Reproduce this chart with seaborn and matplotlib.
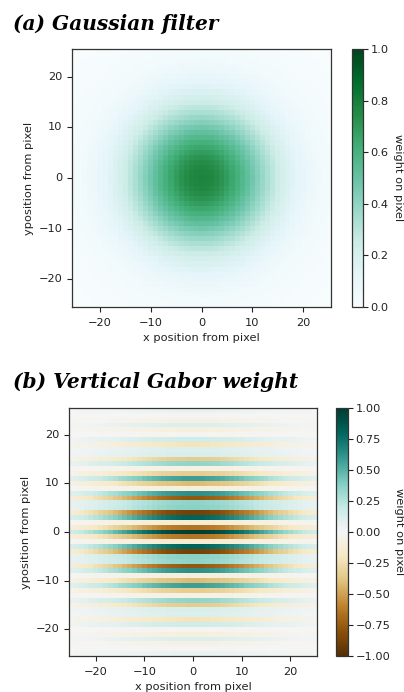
import numpy as np
import matplotlib
matplotlib.use("Agg")
import matplotlib.pyplot as plt
from matplotlib.ticker import FuncFormatter
import seaborn as sns

# Pixel offsets of the filter window
offsets = np.arange(-25, 26)
tick_values = [-20, -10, 0, 10, 20]

# Gaussian filter parameters
gauss_sigma = 10.0
gauss_peak = 0.78

# Vertical Gabor parameters
gabor_sigma_x = 13.0
gabor_sigma_y = 10.5
gabor_wavelength = 2.75

gauss_ticks = [0.0, 0.2, 0.4, 0.6, 0.8, 1.0]
gabor_ticks = [-1.0, -0.75, -0.5, -0.25, 0.0, 0.25, 0.5, 0.75, 1.0]

sns.set_theme(style="ticks")
plt.rcParams["font.family"] = ["DejaVu Sans"]

# rows run from y=+25 (top) to y=-25 (bottom)
ys = offsets[::-1]
X, Y = np.meshgrid(offsets, ys)
gauss = gauss_peak * np.exp(-(X**2 + Y**2) / (2 * gauss_sigma**2))
gabor = np.exp(-(X**2 / (2 * gabor_sigma_x**2) + Y**2 / (2 * gabor_sigma_y**2))) \
    * np.cos(2 * np.pi * Y / gabor_wavelength)

W, H = 404, 692
fig = plt.figure(figsize=(W / 100, H / 100), dpi=100)


def box(left, top, right, bottom):
    return [left / W, 1 - bottom / H, (right - left) / W, (bottom - top) / H]


def minus(s):
    return s.replace("-", "\u2212")


FS = 8.2
spine_color = "#333333"
text_color = "#222222"


def draw(ax, cax, data, cmap, vmin, vmax, cticks, cfmt):
    fmt = FuncFormatter(lambda v, p: minus(cfmt.format(v)))
    sns.heatmap(data, ax=ax, cbar_ax=cax, cmap=cmap, vmin=vmin, vmax=vmax,
                cbar_kws={"ticks": cticks, "format": fmt})
    ax.set_xticks([v + 25.5 for v in tick_values])
    ax.set_xticklabels([minus(f"{v}") for v in tick_values], rotation=0)
    ax.set_yticks([25.5 - v for v in tick_values])
    ax.set_yticklabels([minus(f"{v}") for v in tick_values], rotation=0)
    for s in ax.spines.values():
        s.set_visible(True)
        s.set_color(spine_color)
        s.set_linewidth(0.9)
    ax.tick_params(axis="x", direction="out", length=3.5, width=0.8,
                   labelsize=FS, colors=text_color, pad=4.5)
    ax.tick_params(axis="y", direction="out", length=3.5, width=0.8,
                   labelsize=FS, colors=text_color, pad=3.5)
    ax.set_xlabel("x position from pixel", fontsize=FS, labelpad=3.5, color=text_color)
    ax.set_ylabel("yposition from pixel", fontsize=FS, labelpad=3, color=text_color)
    cb = ax.collections[0].colorbar
    cb.outline.set_visible(True)
    cb.outline.set_linewidth(0.9)
    cb.outline.set_edgecolor(spine_color)
    cax.tick_params(direction="out", length=3.5, width=0.8, labelsize=FS,
                    colors=text_color, pad=2)
    cb.set_label("weight on pixel", rotation=270, fontsize=FS, labelpad=10,
                 color=text_color)


ax1 = fig.add_axes(box(72, 49, 331, 307))
cax1 = fig.add_axes(box(352, 49, 363, 307))
draw(ax1, cax1, gauss, "BuGn", 0.0, 1.0, gauss_ticks, "{:.1f}")

ax2 = fig.add_axes(box(69, 408, 317, 656))
cax2 = fig.add_axes(box(336, 408, 348, 656))
draw(ax2, cax2, gabor, "BrBG", -1.0, 1.0, gabor_ticks, "{:.2f}")

title_kw = dict(fontsize=14.5, fontweight="bold", fontstyle="italic",
                family=["DejaVu Serif"], color="black", va="baseline", ha="left")
fig.text(13 / W, 1 - 30 / H, "(a) Gaussian filter", **title_kw)
fig.text(13 / W, 1 - 388 / H, "(b) Vertical Gabor weight", **title_kw)

fig.savefig("out.png", dpi=100)
